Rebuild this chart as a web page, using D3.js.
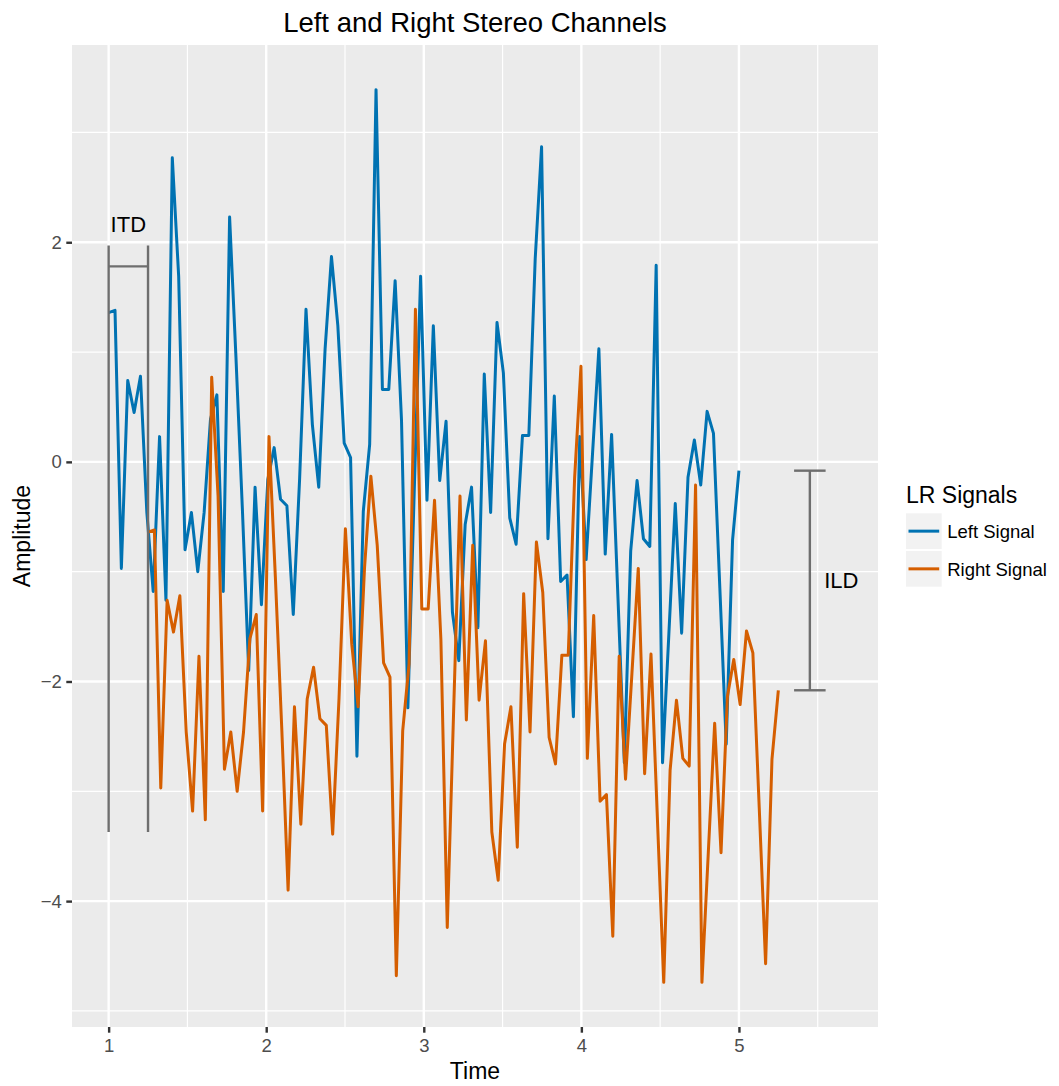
<!DOCTYPE html>
<html>
  <head>
    <meta charset="utf-8">
    <title>Left and Right Stereo Channels</title>
    <script src="https://d3js.org/d3.v7.min.js"></script>
    <style>
      body {
        margin: 0;
        background: white;
      }
      svg {
        background-color: white;
        display: block;
      }
      text {
        font-family: "Liberation Sans", Arial, Helvetica, sans-serif;
      }
      .panel {
        fill: #EBEBEB;
      }
      .grid-major {
        stroke: white;
        stroke-width: 2.4px;
      }
      .grid-minor {
        stroke: white;
        stroke-width: 1.2px;
      }
      .axis .domain {
        display: none;
      }
      .axis line {
        stroke: #333333;
        stroke-width: 2.4px;
      }
      .axis text {
        fill: #4D4D4D;
        font-size: 18.5px;
      }
      .signal {
        fill: none;
        stroke-width: 3px;
        stroke-linejoin: round;
      }
      .marker {
        stroke: #6E6E6E;
        stroke-width: 2.4px;
        fill: none;
      }
      .marker-label {
        font-size: 22px;
        fill: black;
      }
      .axis-title {
        font-size: 23px;
        fill: black;
      }
      #title {
        font-size: 27.5px;
        fill: black;
      }
      .legend-key {
        fill: #F2F2F2;
      }
      .legend-label {
        font-size: 18.5px;
        fill: black;
      }
    </style>
  </head>
  <body>
    <svg></svg>

    <script>
      //begin: data
      var leftSignal = [
         1.36,  1.38, -0.97,  0.74,  0.45,  0.78, -0.46, -1.18,  0.23, -1.26,
         2.77,  1.69, -0.80, -0.46, -1.00, -0.46,  0.39,  0.61, -1.18,  2.23,
         0.95, -0.42, -1.90, -0.23, -1.30, -0.16,  0.13, -0.34, -0.40, -1.39,
        -0.15,  1.39,  0.34, -0.23,  1.03,  1.87,  1.24,  0.17,  0.04, -2.68,
        -0.45,  0.16,  3.39,  0.66,  0.66,  1.65,  0.38, -2.24, -0.27,  1.69,
        -0.35,  1.24, -0.17,  0.37, -1.37, -1.81, -0.57, -0.23, -1.51,  0.80,
        -0.46,  1.27,  0.81, -0.51, -0.75,  0.24,  0.24,  1.85,  2.87, -0.70,
         0.60, -1.09, -1.03, -2.32,  0.23, -0.89,  0.07,  1.03, -0.84,  0.25,
        -1.24, -2.74, -0.81, -0.17, -0.70, -0.77,  1.79, -2.74, -1.56, -0.38,
        -1.56, -0.14,  0.20, -0.21,  0.46,  0.26, -1.15, -2.57, -0.71, -0.08
      ];
      var rightSignal = [
        -0.64, -0.62, -2.97, -1.26, -1.55, -1.22, -2.46, -3.18, -1.77, -3.26,
         0.77, -0.31, -2.80, -2.46, -3.00, -2.46, -1.61, -1.39, -3.18,  0.23,
        -1.05, -2.42, -3.90, -2.23, -3.30, -2.16, -1.87, -2.34, -2.40, -3.39,
        -2.15, -0.61, -1.66, -2.23, -0.97, -0.13, -0.76, -1.83, -1.96, -4.68,
        -2.45, -1.84,  1.39, -1.34, -1.34, -0.35, -1.62, -4.24, -2.27, -0.31,
        -2.35, -0.76, -2.17, -1.63, -3.37, -3.81, -2.57, -2.23, -3.51, -1.20,
        -2.46, -0.73, -1.19, -2.51, -2.75, -1.76, -1.76, -0.15,  0.87, -2.70,
        -1.40, -3.09, -3.03, -4.32, -1.77, -2.89, -1.93, -0.97, -2.84, -1.75,
        -3.24, -4.74, -2.81, -2.17, -2.70, -2.77, -0.21, -4.74, -3.56, -2.38,
        -3.56, -2.14, -1.80, -2.21, -1.54, -1.74, -3.15, -4.57, -2.71, -2.08
      ];
      var timeStart = 1, timeEnd = 5;
      var itdShift = 0.25;

      var seriesNames = ["Left Signal", "Right Signal"];
      var seriesColors = ["#0072B2", "#D55E00"];
      var xTicks = [1, 2, 3, 4, 5];
      var xMinorTicks = [1.5, 2.5, 3.5, 4.5, 5.5];
      var yTicks = [-4, -2, 0, 2];
      var yMinorTicks = [-5, -3, -1, 1, 3];

      // ITD bracket: two verticals + bar, label above
      var itdX = [1, 1.25], itdYRange = [-3.37, 1.97], itdBarY = 1.78, itdLabelY = 2.17;
      // ILD error bar between last left and last right value
      var ildX = 5.45, ildCapHalf = 0.1, ildYRange = [-2.08, -0.08], ildLabelX = 5.65, ildLabelY = -1.08;
      //end: data

      //begin: layout config.
      var svgWidth = 1059,
          svgHeight = 1086,
          panel = {left: 72, right: 878, top: 45, bottom: 1027};
      //end: layout config.

      var n = leftSignal.length;
      var leftTime = d3.range(n).map(function(i){ return timeStart + i*(timeEnd - timeStart)/(n - 1); });
      var rightTime = leftTime.map(function(t){ return t + itdShift; });

      var series = [
        {name: seriesNames[0], color: seriesColors[0], values: leftSignal.map(function(v, i){ return [leftTime[i], v]; })},
        {name: seriesNames[1], color: seriesColors[1], values: rightSignal.map(function(v, i){ return [rightTime[i], v]; })}
      ];

      // ggplot style 5% expansion
      function expand(ext) {
        var pad = (ext[1] - ext[0])*0.05;
        return [ext[0] - pad, ext[1] + pad];
      }
      var xExtent = [timeStart, ildLabelX];
      var yExtent = d3.extent(leftSignal.concat(rightSignal));

      var x = d3.scaleLinear().domain(expand(xExtent)).range([panel.left, panel.right]);
      var y = d3.scaleLinear().domain(expand(yExtent)).range([panel.bottom, panel.top]);

      var svg = d3.select("svg")
        .attr("width", svgWidth)
        .attr("height", svgHeight);

      //panel + grid
      svg.append("rect")
        .classed("panel", true)
        .attr("x", panel.left)
        .attr("y", panel.top)
        .attr("width", panel.right - panel.left)
        .attr("height", panel.bottom - panel.top);

      var grid = svg.append("g").classed("grid", true);
      grid.selectAll(".grid-minor.vx")
        .data(xMinorTicks)
        .enter().append("line")
          .attr("class", "grid-minor vx")
          .attr("x1", function(d){ return x(d); }).attr("x2", function(d){ return x(d); })
          .attr("y1", panel.top).attr("y2", panel.bottom);
      grid.selectAll(".grid-minor.hy")
        .data(yMinorTicks)
        .enter().append("line")
          .attr("class", "grid-minor hy")
          .attr("x1", panel.left).attr("x2", panel.right)
          .attr("y1", function(d){ return y(d); }).attr("y2", function(d){ return y(d); });
      grid.selectAll(".grid-major.vx")
        .data(xTicks)
        .enter().append("line")
          .attr("class", "grid-major vx")
          .attr("x1", function(d){ return x(d); }).attr("x2", function(d){ return x(d); })
          .attr("y1", panel.top).attr("y2", panel.bottom);
      grid.selectAll(".grid-major.hy")
        .data(yTicks)
        .enter().append("line")
          .attr("class", "grid-major hy")
          .attr("x1", panel.left).attr("x2", panel.right)
          .attr("y1", function(d){ return y(d); }).attr("y2", function(d){ return y(d); });

      //signals
      var line = d3.line()
        .x(function(d){ return x(d[0]); })
        .y(function(d){ return y(d[1]); });

      svg.append("g")
        .selectAll(".signal")
        .data(series)
        .enter().append("path")
          .classed("signal", true)
          .attr("stroke", function(d){ return d.color; })
          .attr("d", function(d){ return line(d.values); });

      //ITD bracket
      var itd = svg.append("g");
      itd.selectAll("line.v")
        .data(itdX)
        .enter().append("line")
          .attr("class", "marker v")
          .attr("x1", function(d){ return x(d); }).attr("x2", function(d){ return x(d); })
          .attr("y1", y(itdYRange[0])).attr("y2", y(itdYRange[1]));
      itd.append("line")
        .classed("marker", true)
        .attr("x1", x(itdX[0])).attr("x2", x(itdX[1]))
        .attr("y1", y(itdBarY)).attr("y2", y(itdBarY));
      itd.append("text")
        .classed("marker-label", true)
        .attr("x", x((itdX[0] + itdX[1])/2))
        .attr("y", y(itdLabelY))
        .attr("dy", "0.36em")
        .attr("text-anchor", "middle")
        .text("ITD");

      //ILD error bar
      var ild = svg.append("g");
      ild.append("line")
        .classed("marker", true)
        .attr("x1", x(ildX)).attr("x2", x(ildX))
        .attr("y1", y(ildYRange[0])).attr("y2", y(ildYRange[1]));
      ild.selectAll("line.cap")
        .data(ildYRange)
        .enter().append("line")
          .attr("class", "marker cap")
          .attr("x1", x(ildX - ildCapHalf)).attr("x2", x(ildX + ildCapHalf))
          .attr("y1", function(d){ return y(d); }).attr("y2", function(d){ return y(d); });
      ild.append("text")
        .classed("marker-label", true)
        .attr("x", x(ildLabelX))
        .attr("y", y(ildLabelY))
        .attr("dy", "0.36em")
        .attr("text-anchor", "middle")
        .text("ILD");

      //axes
      var xAxis = svg.append("g")
        .classed("axis", true)
        .attr("transform", "translate(0," + panel.bottom + ")")
        .call(d3.axisBottom(x).tickValues(xTicks).tickSize(5.7).tickPadding(5).tickFormat(d3.format("d")));
      xAxis.selectAll("text").attr("dy", "0.75em");

      svg.append("g")
        .classed("axis", true)
        .attr("transform", "translate(" + panel.left + ",0)")
        .call(d3.axisLeft(y).tickValues(yTicks).tickSize(5.7).tickPadding(4.5).tickFormat(d3.format("d")));

      svg.append("text")
        .classed("axis-title", true)
        .attr("x", (panel.left + panel.right)/2)
        .attr("y", 1079)
        .attr("text-anchor", "middle")
        .text("Time");

      svg.append("text")
        .classed("axis-title", true)
        .attr("transform", "translate(30," + (panel.top + panel.bottom)/2 + ") rotate(-90)")
        .attr("text-anchor", "middle")
        .text("Amplitude");

      svg.append("text")
        .attr("id", "title")
        .attr("x", (panel.left + panel.right)/2)
        .attr("y", 31.5)
        .attr("text-anchor", "middle")
        .text("Left and Right Stereo Channels");

      //legend
      var legend = svg.append("g").attr("transform", "translate(906,0)");
      legend.append("text")
        .classed("axis-title", true)
        .attr("x", 0)
        .attr("y", 503)
        .text("LR Signals");

      var keySize = 35.7, keyTop = 513.3, keyGap = 2;
      var items = legend.selectAll(".legend-item")
        .data(series)
        .enter().append("g")
          .classed("legend-item", true)
          .attr("transform", function(d, i){ return "translate(0," + (keyTop + i*(keySize + keyGap)) + ")"; });
      items.append("rect")
        .classed("legend-key", true)
        .attr("width", keySize)
        .attr("height", keySize);
      items.append("line")
        .attr("x1", 2.5).attr("x2", keySize - 2.5)
        .attr("y1", keySize/2).attr("y2", keySize/2)
        .attr("stroke", function(d){ return d.color; })
        .attr("stroke-width", 3);
      items.append("text")
        .classed("legend-label", true)
        .attr("x", keySize + 5.5)
        .attr("y", keySize/2)
        .attr("dy", "0.36em")
        .text(function(d){ return d.name; });
    </script>
  </body>
</html>
